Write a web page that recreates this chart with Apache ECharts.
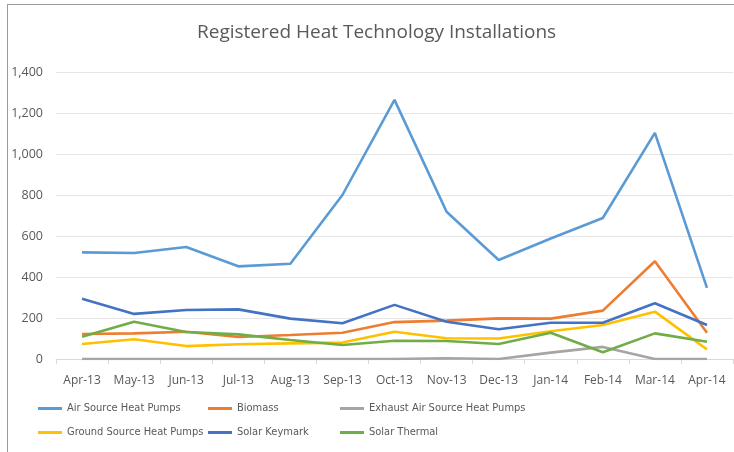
<!DOCTYPE html>
<html>
<head>
<meta charset="utf-8">
<title>Registered Heat Technology Installations</title>
<script src="https://cdn.jsdelivr.net/npm/echarts@6/dist/echarts.min.js"></script>
<style>
  html, body { margin: 0; padding: 0; background: #fff; }
  #chart {
    position: absolute;
    left: 0; top: 0;
    width: 734px; height: 452px;
  }
  /* frame edge of the original chart object */
  #frame {
    position: absolute;
    left: 7px; top: 4px;
    width: 740px; height: 460px;
    border-left: 1px solid #9a9a9a;
    border-top: 1px solid #9a9a9a;
  }
</style>
</head>
<body>
<div id="frame"></div>
<div id="chart"></div>
<script>
// months on the x axis
const months = ['Apr-13', 'May-13', 'Jun-13', 'Jul-13', 'Aug-13', 'Sep-13', 'Oct-13',
  'Nov-13', 'Dec-13', 'Jan-14', 'Feb-14', 'Mar-14', 'Apr-14'];

// installations per month
const airSource = [520, 517, 546, 452, 465, 800, 1264, 718, 483, 588, 688, 1103, 347];
const biomass = [122, 125, 133, 107, 117, 128, 180, 187, 198, 197, 236, 477, 128];
const exhaustAir = [0, 0, 0, 0, 0, 0, 0, 4, 0, 31, 59, 0, 0];
const groundSource = [73, 96, 63, 72, 76, 80, 133, 101, 100, 135, 166, 231, 47];
const solarKeymark = [294, 220, 239, 242, 197, 174, 264, 182, 145, 177, 177, 272, 166];
const solarThermal = [109, 182, 132, 120, 93, 68, 89, 88, 73, 128, 33, 125, 84];

const yTicks = [0, 200, 400, 600, 800, 1000, 1200, 1400];

const chart = echarts.init(document.getElementById('chart'));

// legend text is narrow in the original (Calibri); ask for the condensed face
const legendText = {
  fontFamily: 'DejaVu Sans',
  fontStyle: 'condensed',
  fontSize: 11, color: '#595959'
};
const legendBase = {
  orient: 'vertical',
  top: 398,
  itemWidth: 24,
  itemHeight: 3,
  itemGap: 13,
  icon: 'rect',
  textStyle: legendText
};

const mkLine = (name, data, color) => ({
  name: name,
  type: 'line',
  data: data,
  symbol: 'none',
  lineStyle: { width: 2.6, color: color },
  itemStyle: { color: color }
});

chart.setOption({
  animation: false,
  title: {
    text: 'Registered Heat Technology Installations',
    left: 192,
    top: 18,
    textStyle: { fontFamily: 'Open Sans', fontWeight: 'normal', fontSize: 19, color: '#595959' }
  },
  legend: [
    Object.assign({ left: 33, data: ['Air Source Heat Pumps', 'Ground Source Heat Pumps'] }, legendBase),
    Object.assign({ left: 203, data: ['Biomass', 'Solar Keymark'] }, legendBase),
    Object.assign({ left: 335, data: ['Exhaust Air Source Heat Pumps', 'Solar Thermal'] }, legendBase)
  ],
  grid: { left: 56, right: 1, top: 72, bottom: 93 },
  xAxis: {
    type: 'category',
    data: months,
    boundaryGap: true,
    axisLine: { lineStyle: { color: '#d9d9d9', width: 1 } },
    axisTick: { show: true, length: 5, lineStyle: { color: '#d9d9d9' } },
    axisLabel: { fontFamily: 'Open Sans', fontSize: 12, color: '#595959', margin: 16, interval: 0 }
  },
  yAxis: {
    type: 'value',
    min: yTicks[0],
    max: yTicks[yTicks.length - 1],
    interval: 200,
    axisLine: { show: false },
    axisTick: { show: false },
    splitLine: { lineStyle: { color: '#e6e6e6', width: 1 } },
    axisLabel: {
      fontFamily: 'Open Sans', fontSize: 12.5, color: '#595959', margin: 13,
      formatter: v => v.toLocaleString('en-US')
    }
  },
  series: [
    mkLine('Air Source Heat Pumps', airSource, '#5b9bd5'),
    mkLine('Biomass', biomass, '#ed7d31'),
    mkLine('Exhaust Air Source Heat Pumps', exhaustAir, '#a5a5a5'),
    mkLine('Ground Source Heat Pumps', groundSource, '#ffc000'),
    mkLine('Solar Keymark', solarKeymark, '#4472c4'),
    mkLine('Solar Thermal', solarThermal, '#70ad47')
  ]
});
</script>
</body>
</html>
